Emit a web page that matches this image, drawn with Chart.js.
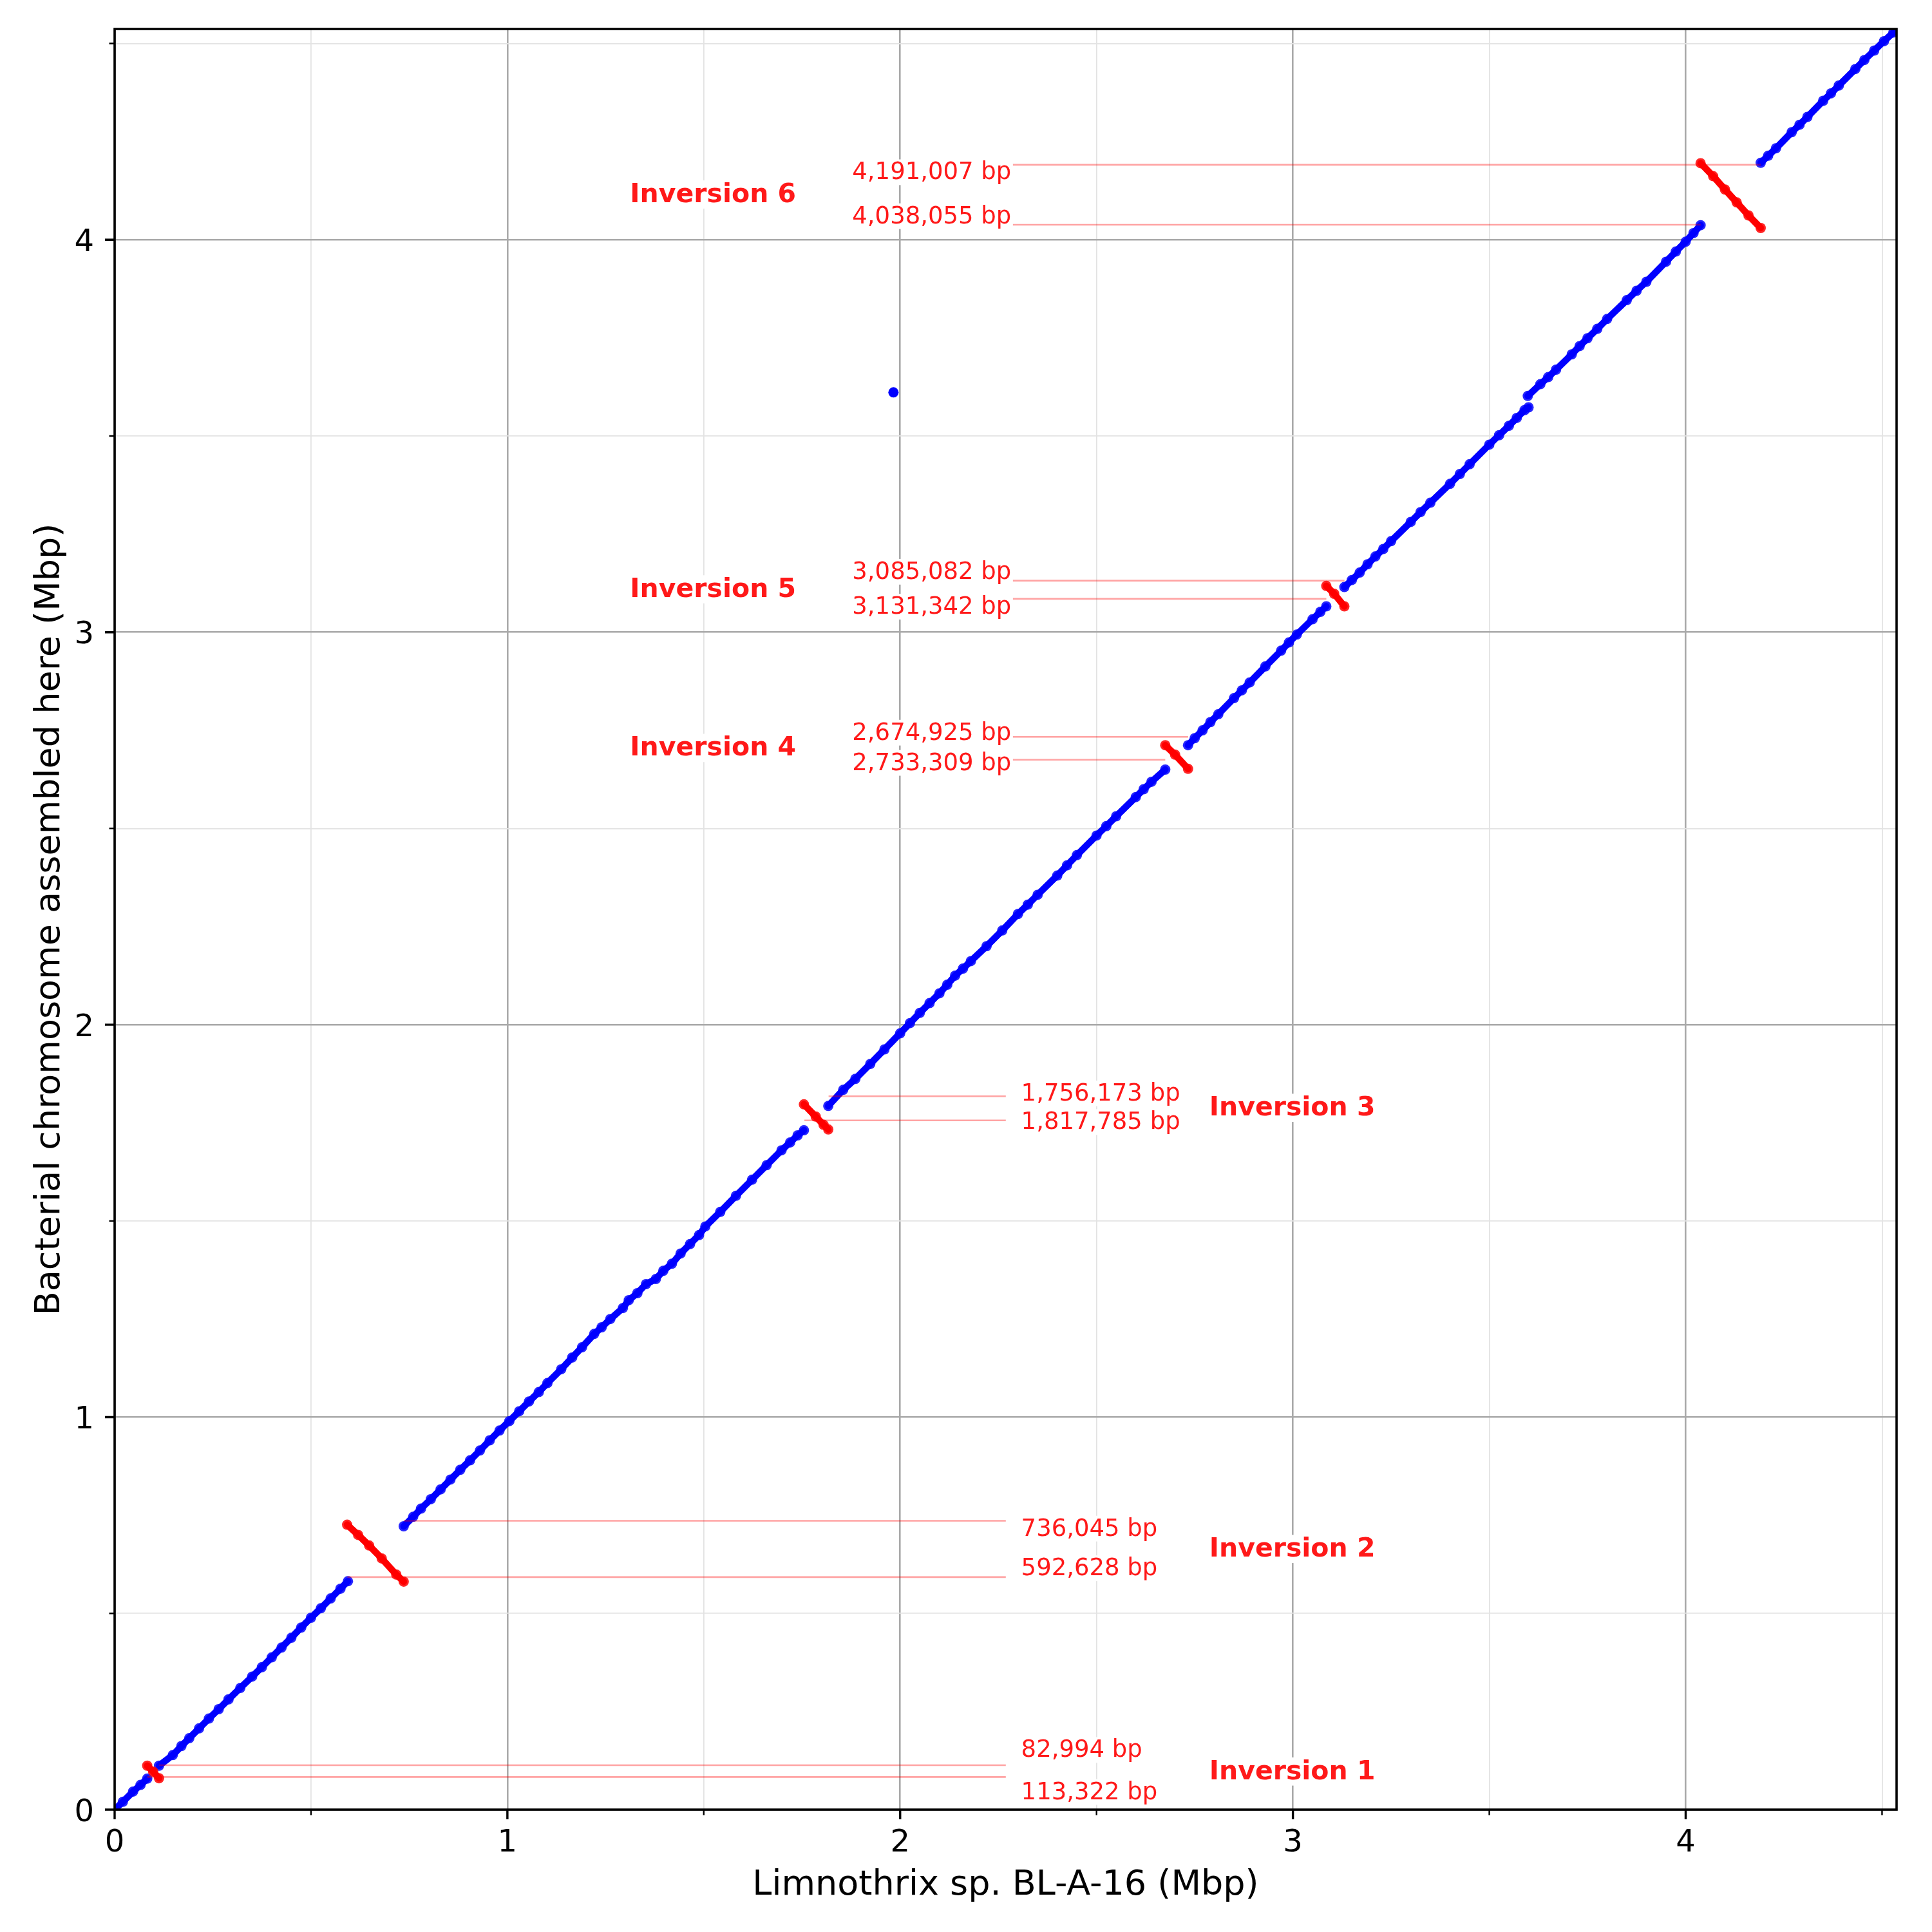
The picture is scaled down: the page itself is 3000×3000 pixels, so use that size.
<!DOCTYPE html>
<html>
<head>
<meta charset="utf-8">
<script src="https://cdn.jsdelivr.net/npm/chart.js@4.4.1/dist/chart.umd.min.js"></script>
<style>
html,body{margin:0;padding:0;background:#ffffff;}
#wrap{width:3000px;height:3000px;}
canvas{display:block;}
</style>
</head>
<body>
<div id="wrap"><canvas id="c" width="3000" height="3000" style="width:3000px;height:3000px"></canvas></div>
<script>
// ---------------- DATA (Mbp) ----------------
// collinear alignment blocks (blue): [x = Limnothrix position, y = assembly position]
const alignA = [[0.000,0.000],[0.021,0.020],[0.047,0.046],[0.066,0.063],[0.083,0.079]];
const alignB = [[0.113,0.112],[0.148,0.139],[0.170,0.162],[0.190,0.182],[0.215,0.207],[0.240,0.232],[0.265,0.256],[0.290,0.281],[0.320,0.310],[0.350,0.339],[0.375,0.363],[0.400,0.388],[0.425,0.413],[0.450,0.438],[0.475,0.464],[0.500,0.489],[0.525,0.513],[0.550,0.538],[0.575,0.563],[0.594,0.582]];
const alignC = [[0.736,0.722],[0.760,0.746],[0.780,0.767],[0.805,0.791],[0.830,0.816],[0.855,0.841],[0.880,0.866],[0.905,0.890],[0.930,0.915],[0.955,0.941],[0.980,0.966],[1.005,0.990],[1.030,1.015],[1.055,1.040],[1.080,1.064],[1.102,1.087],[1.137,1.122],[1.165,1.152],[1.190,1.178],[1.221,1.212],[1.240,1.229],[1.262,1.250],[1.294,1.278],[1.309,1.298],[1.331,1.316],[1.353,1.339],[1.378,1.352],[1.397,1.373],[1.419,1.391],[1.441,1.417],[1.465,1.441],[1.488,1.464],[1.504,1.486],[1.542,1.523],[1.582,1.564],[1.623,1.605],[1.660,1.642],[1.698,1.680],[1.720,1.700],[1.739,1.718],[1.755,1.731]];
const alignD = [[1.817,1.793],[1.855,1.834],[1.886,1.862],[1.924,1.900],[1.960,1.937],[2.000,1.978],[2.025,2.004],[2.050,2.030],[2.075,2.055],[2.100,2.080],[2.120,2.102],[2.140,2.125],[2.160,2.143],[2.180,2.162],[2.220,2.200],[2.260,2.240],[2.300,2.282],[2.325,2.306],[2.350,2.331],[2.400,2.380],[2.425,2.406],[2.450,2.432],[2.500,2.482],[2.525,2.506],[2.550,2.531],[2.600,2.580],[2.620,2.600],[2.640,2.619],[2.675,2.650]];
const alignE = [[2.733,2.712],[2.750,2.730],[2.770,2.750],[2.790,2.771],[2.810,2.791],[2.850,2.832],[2.870,2.852],[2.890,2.872],[2.930,2.913],[2.970,2.953],[2.990,2.974],[3.010,2.994],[3.050,3.033],[3.070,3.052],[3.085,3.066]];
const alignF = [[3.131,3.115],[3.150,3.133],[3.170,3.152],[3.190,3.173],[3.210,3.193],[3.230,3.212],[3.250,3.232],[3.300,3.281],[3.325,3.306],[3.350,3.330],[3.400,3.378],[3.425,3.403],[3.450,3.428],[3.500,3.478],[3.525,3.502],[3.550,3.526],[3.570,3.546],[3.590,3.566],[3.600,3.573]];
const alignG = [[3.598,3.602],[3.630,3.632],[3.650,3.650],[3.670,3.669],[3.710,3.708],[3.730,3.729],[3.750,3.749],[3.775,3.773],[3.800,3.798],[3.850,3.846],[3.875,3.870],[3.900,3.893],[3.950,3.944],[3.975,3.970],[4.000,3.995],[4.020,4.017],[4.038,4.037]];
const alignH = [[4.191,4.196],[4.210,4.214],[4.230,4.233],[4.270,4.274],[4.290,4.293],[4.310,4.313],[4.350,4.354],[4.370,4.373],[4.390,4.393],[4.432,4.435],[4.455,4.458],[4.480,4.482],[4.505,4.506],[4.529,4.528],[4.540,4.540]];
// inverted blocks (red)
const inv1Dots = [[0.083,0.112],[0.098,0.097],[0.113,0.080]];
const inv2Dots = [[0.592,0.726],[0.620,0.700],[0.648,0.673],[0.680,0.640],[0.717,0.599],[0.736,0.581]];
const inv3Dots = [[1.755,1.797],[1.785,1.766],[1.805,1.745],[1.817,1.733]];
const inv4Dots = [[2.675,2.712],[2.700,2.688],[2.733,2.652]];
const inv5Dots = [[3.085,3.118],[3.105,3.098],[3.131,3.066]];
const inv6Dots = [[4.038,4.195],[4.070,4.162],[4.100,4.128],[4.130,4.095],[4.160,4.062],[4.191,4.030]];
// isolated hits
const outlierDots = [[1.983,3.611]];
const faintDots = [[1.980,2.753]];

// inversion boundaries (bp)
const inversionNames = ['Inversion 1','Inversion 2','Inversion 3','Inversion 4','Inversion 5','Inversion 6'];
const inversionStartBp = [82994, 592628, 1756173, 2674925, 3085082, 4038055];
const inversionEndBp   = [113322, 736045, 1817785, 2733309, 3131342, 4191007];

// axes
const axisMaxMbp = 4.537;
const majorTicks = [0, 1, 2, 3, 4];
const majorTickLabels = ['0', '1', '2', '3', '4'];
const minorTicks = [0.5, 1.5, 2.5, 3.5, 4.5];
const xAxisTitle = 'Limnothrix sp. BL-A-16 (Mbp)';
const yAxisTitle = 'Bacterial chromosome assembled here (Mbp)';

// ---------------- LAYOUT (annotation placement, Mbp) ----------------
const labelSide = ['right','right','right','left','left','left'];
const upperIsStart = [true, false, true, true, true, false];
const upperLabelY = [0.156, 0.720, 1.829, 2.748, 3.158, 4.176];
const lowerLabelY = [0.049, 0.619, 1.756, 2.671, 3.069, 4.064];
const nameLabelY  = [0.102, 0.669, 1.793, 2.710, 3.114, 4.120];
const rightLineEnd = 2.269, leftLineStart = 2.287;
const rightNumX = 2.308, leftNumRightX = 2.283;
const rightNameX = 2.787, leftNameRightX = 1.735;

// ---------------- BUILD ----------------
const toPts = arr => arr.map(p => ({x: p[0], y: p[1]}));
const BLUE = '#0000ff', RED = '#ff0000';
function blockDs(arr, color, pointColor, order) {
  return {data: toPts(arr), showLine: true, borderColor: color, borderWidth: 10.5,
    borderCapStyle: 'round', borderJoinStyle: 'round',
    pointRadius: 8, pointBackgroundColor: pointColor, pointBorderWidth: 0,
    pointHoverRadius: 8, order: order};
}
const datasets = [];
[alignA, alignB, alignC, alignD, alignE, alignF, alignG, alignH].forEach(a =>
  datasets.push(blockDs(a, BLUE, 'rgba(0,0,255,0.85)', 3)));
[inv1Dots, inv2Dots, inv3Dots, inv4Dots, inv5Dots, inv6Dots].forEach(a =>
  datasets.push(blockDs(a, RED, 'rgba(255,0,0,0.85)', 2)));
datasets.push({data: toPts(outlierDots), showLine: false, pointRadius: 8,
  pointBackgroundColor: BLUE, pointBorderWidth: 0, order: 3});
datasets.push({data: toPts(faintDots), showLine: false, pointRadius: 8,
  pointBackgroundColor: 'rgba(0,0,255,0.22)', pointBorderWidth: 0, order: 3});
// guide lines from the inversion boundaries to the labels
inversionNames.forEach((n, i) => {
  [inversionStartBp[i], inversionEndBp[i]].forEach(bp => {
    const v = bp / 1e6;
    const other = labelSide[i] === 'right' ? rightLineEnd : leftLineStart;
    datasets.push({data: [{x: v, y: v}, {x: other, y: v}], showLine: true,
      borderColor: 'rgba(255,0,0,0.36)', borderWidth: 2.6, pointRadius: 0, order: 1});
  });
});

const FONT = '"DejaVu Sans", "Liberation Sans", sans-serif';
const TEXT_RED = 'rgba(255,0,0,0.9)';
const fmt = bp => bp.toLocaleString('en-US') + ' bp';

function textWithBg(ctx, text, px, cy, size, bold, align) {
  ctx.font = (bold ? 'bold ' : '') + size + 'px ' + FONT;
  const w = ctx.measureText(text).width;
  const cap = size * 0.729;
  const base = cy + cap / 2;
  const left = align === 'left' ? px : px - w;
  ctx.fillStyle = '#ffffff';
  ctx.fillRect(left - 2, base - cap - 4, w + 4, cap + 4 + size * 0.24);
  ctx.fillStyle = TEXT_RED;
  ctx.textAlign = 'left';
  ctx.textBaseline = 'alphabetic';
  ctx.fillText(text, left, base);
}

const overlay = {
  id: 'overlay',
  afterDatasetsDraw(chart) {
    const {ctx, chartArea: a, scales: {x, y}} = chart;
    ctx.save();
    // inversion annotations
    inversionNames.forEach((name, i) => {
      const upperBp = upperIsStart[i] ? inversionStartBp[i] : inversionEndBp[i];
      const lowerBp = upperIsStart[i] ? inversionEndBp[i] : inversionStartBp[i];
      if (labelSide[i] === 'right') {
        const nx = x.getPixelForValue(rightNumX);
        textWithBg(ctx, fmt(upperBp), nx, y.getPixelForValue(upperLabelY[i]), 37, false, 'left');
        textWithBg(ctx, fmt(lowerBp), nx, y.getPixelForValue(lowerLabelY[i]), 37, false, 'left');
        textWithBg(ctx, name, x.getPixelForValue(rightNameX), y.getPixelForValue(nameLabelY[i]), 41, true, 'left');
      } else {
        const nx = x.getPixelForValue(leftNumRightX);
        textWithBg(ctx, fmt(upperBp), nx, y.getPixelForValue(upperLabelY[i]), 37, false, 'right');
        textWithBg(ctx, fmt(lowerBp), nx, y.getPixelForValue(lowerLabelY[i]), 37, false, 'right');
        textWithBg(ctx, name, x.getPixelForValue(leftNameRightX), y.getPixelForValue(nameLabelY[i]), 41, true, 'right');
      }
    });
    // frame
    ctx.strokeStyle = '#000000';
    ctx.lineWidth = 3.6;
    ctx.strokeRect(a.left, a.top, a.right - a.left, a.bottom - a.top);
    // tick marks
    const tick = (v, len, lw) => {
      ctx.lineWidth = lw;
      const px = x.getPixelForValue(v), py = y.getPixelForValue(v);
      ctx.beginPath();
      ctx.moveTo(px, a.bottom); ctx.lineTo(px, a.bottom + len);
      ctx.moveTo(a.left, py); ctx.lineTo(a.left - len, py);
      ctx.stroke();
    };
    majorTicks.forEach(v => tick(v, 15, 3.4));
    minorTicks.forEach(v => tick(v, 8.5, 2.4));
    // tick labels
    ctx.fillStyle = '#000000';
    ctx.font = '48px ' + FONT;
    ctx.textBaseline = 'alphabetic';
    majorTicks.forEach((v, i) => {
      ctx.textAlign = 'center';
      ctx.fillText(majorTickLabels[i], x.getPixelForValue(v), a.bottom + 65);
      ctx.textAlign = 'right';
      ctx.fillText(majorTickLabels[i], a.left - 32, y.getPixelForValue(v) + 17.5);
    });
    // axis titles
    ctx.font = '54px ' + FONT;
    ctx.textAlign = 'center';
    ctx.fillText(xAxisTitle, (a.left + a.right) / 2, 2942);
    ctx.translate(92, (a.top + a.bottom) / 2);
    ctx.rotate(-Math.PI / 2);
    ctx.fillText(yAxisTitle, 0, 0);
    ctx.restore();
  }
};

const gridColor = c => (Number.isInteger(c.tick.value) ? '#a9a9a9' : '#e3e3e3');
const gridWidth = c => (Number.isInteger(c.tick.value) ? 2.6 : 1.8);

new Chart(document.getElementById('c'), {
  type: 'scatter',
  data: {datasets: datasets},
  options: {
    responsive: false,
    devicePixelRatio: 1,
    animation: false,
    events: [],
    layout: {padding: {left: 0, top: 45, right: 55, bottom: 0}},
    plugins: {legend: {display: false}, tooltip: {enabled: false}},
    scales: {
      x: {type: 'linear', min: 0, max: axisMaxMbp,
        ticks: {stepSize: 0.5, display: false, includeBounds: false},
        grid: {color: gridColor, lineWidth: gridWidth, drawTicks: false},
        border: {display: false},
        afterFit: s => { s.height = 190; }},
      y: {type: 'linear', min: 0, max: axisMaxMbp,
        ticks: {stepSize: 0.5, display: false, includeBounds: false},
        grid: {color: gridColor, lineWidth: gridWidth, drawTicks: false},
        border: {display: false},
        afterFit: s => { s.height = undefined; s.width = 178; }}
    }
  },
  plugins: [overlay]
});
</script>
</body>
</html>
